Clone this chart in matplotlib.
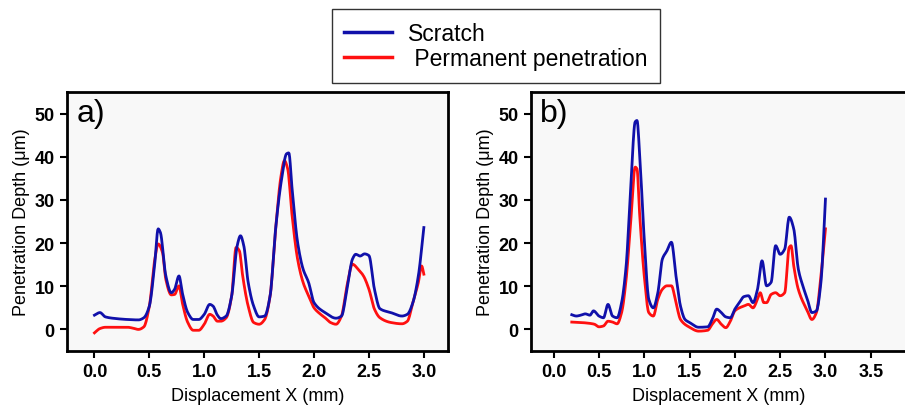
import matplotlib
matplotlib.use("Agg")
import matplotlib.pyplot as plt
import numpy as np

# ---------------- data ----------------
# Panel a
a_scratch_x = [0.0, 0.05, 0.1, 0.2, 0.3, 0.4, 0.45, 0.5, 0.55, 0.58, 0.6, 0.65, 0.7, 0.73, 0.77,
               0.8, 0.85, 0.9, 0.95, 1.0, 1.05, 1.08, 1.12, 1.15, 1.2, 1.25, 1.3, 1.33, 1.36,
               1.4, 1.45, 1.5, 1.55, 1.6, 1.65, 1.7, 1.75, 1.77, 1.8, 1.85, 1.9, 1.95, 2.0,
               2.1, 2.2, 2.25, 2.3, 2.35, 2.38, 2.42, 2.46, 2.5, 2.55, 2.6, 2.7, 2.8, 2.85, 2.9,
               2.95, 3.0]
a_scratch_y = [3.3, 3.9, 2.9, 2.5, 2.3, 2.2, 2.7, 5.4, 15.5, 23.3, 22.5, 12.4, 8.5, 9.3, 12.4,
               8.5, 3.9, 2.3, 2.3, 3.5, 5.8, 5.4, 3.3, 2.5, 3.1, 7.8, 19.4, 21.7, 19.4,
               10.9, 5.4, 2.9, 3.1, 7.8, 23.3, 34.1, 40.7, 40.9, 32.6, 20.2, 14.0, 10.9, 6.2,
               3.9, 2.6, 3.1, 9.3, 16.3, 17.4, 17.0, 17.5, 17.1, 9.3, 4.8, 3.9, 3.1, 3.5, 6.2,
               12.4, 23.6]
a_perm_x = [0.0, 0.05, 0.1, 0.2, 0.3, 0.35, 0.4, 0.45, 0.5, 0.55, 0.58, 0.62, 0.65, 0.7, 0.73,
            0.77, 0.8, 0.85, 0.9, 0.95, 1.0, 1.05, 1.08, 1.12, 1.15, 1.2, 1.25, 1.29, 1.32,
            1.35, 1.4, 1.45, 1.5, 1.55, 1.6, 1.65, 1.7, 1.73, 1.76, 1.8, 1.85, 1.9, 1.95,
            2.0, 2.05, 2.1, 2.15, 2.2, 2.25, 2.3, 2.35, 2.4, 2.45, 2.5, 2.55, 2.6, 2.7,
            2.8, 2.85, 2.9, 2.95, 2.98, 3.0]
a_perm_y = [-0.8, 0.2, 0.5, 0.5, 0.5, 0.3, 0.0, 0.6, 5.4, 16.3, 19.8, 17.8, 11.6, 8.0, 8.1,
            10.1, 6.2, 1.6, -0.2, -0.2, 1.2, 3.5, 3.1, 1.9, 1.9, 2.7, 7.8, 19.0, 18.2,
            12.4, 5.4, 1.6, 1.2, 2.3, 7.8, 23.3, 35.7, 39.1, 37.2, 26.4, 16.3, 10.9, 7.8,
            5.0, 3.7, 2.7, 1.6, 1.2, 3.1, 10.1, 15.1, 14.0, 12.4, 9.3, 4.7, 2.7, 1.6,
            1.3, 1.9, 6.2, 10.9, 14.7, 12.8]

# Panel b
b_scratch_x = [0.2, 0.25, 0.3, 0.35, 0.4, 0.44, 0.5, 0.55, 0.6, 0.65, 0.7, 0.75, 0.8, 0.85,
               0.9, 0.92, 0.95, 1.0, 1.05, 1.1, 1.15, 1.2, 1.25, 1.3, 1.35, 1.4, 1.45, 1.5,
               1.6, 1.7, 1.75, 1.8, 1.85, 1.9, 1.95, 2.0, 2.05, 2.1, 2.15, 2.2, 2.25, 2.3,
               2.35, 2.4, 2.45, 2.5, 2.55, 2.6, 2.65, 2.7, 2.75, 2.8, 2.85, 2.9, 2.95, 3.0]
b_scratch_y = [3.4, 3.1, 3.3, 3.6, 3.3, 4.3, 3.1, 2.7, 5.8, 3.1, 2.7, 6.2, 14.7, 32.6,
               48.1, 48.4, 40.3, 20.9, 7.0, 5.0, 8.5, 16.3, 18.2, 20.2, 12.4, 5.4, 2.3, 1.6,
               0.5, 0.6, 2.3, 4.7, 3.9, 2.9, 2.7, 4.7, 6.2, 7.6, 7.8, 6.2, 9.3, 15.9,
               10.1, 10.9, 19.4, 17.4, 18.6, 26.0, 23.3, 14.0, 10.1, 7.0, 3.9, 4.3, 10.9, 30.2]
b_perm_x = [0.2, 0.3, 0.4, 0.45, 0.5, 0.55, 0.6, 0.65, 0.7, 0.75, 0.8, 0.85, 0.9, 0.92,
            0.95, 1.0, 1.05, 1.1, 1.15, 1.2, 1.25, 1.3, 1.35, 1.4, 1.5, 1.6, 1.7, 1.75,
            1.8, 1.85, 1.9, 1.95, 2.0, 2.05, 2.1, 2.15, 2.2, 2.25, 2.28, 2.32, 2.35, 2.4,
            2.45, 2.5, 2.55, 2.6, 2.62, 2.65, 2.7, 2.8, 2.85, 2.9, 2.95, 3.0]
b_perm_y = [1.7, 1.6, 1.4, 1.2, 0.6, 0.8, 1.9, 1.7, 1.3, 3.9, 11.6, 24.8, 37.6, 37.2,
            26.4, 12.4, 3.9, 3.1, 7.0, 9.3, 10.1, 10.1, 6.2, 2.3, 0.5, -0.4, -0.2, 1.2,
            2.3, 1.2, 0.4, 1.9, 4.3, 5.0, 5.4, 5.8, 5.0, 7.0, 8.5, 6.2, 6.2, 8.1,
            8.5, 7.8, 8.5, 19.0, 19.4, 14.7, 9.3, 4.3, 2.3, 3.9, 12.4, 23.3]

a_xticks = [0.0, 0.5, 1.0, 1.5, 2.0, 2.5, 3.0]
b_xticks = [0.0, 0.5, 1.0, 1.5, 2.0, 2.5, 3.0, 3.5]
yticks = [0, 10, 20, 30, 40, 50]
labels = ["Scratch", " Permanent penetration"]
panel_tags = ["a)", "b)"]

# ---------------- style ----------------
plt.rcParams['font.family'] = ['Liberation Sans', 'DejaVu Sans']
BLUE = '#1010aa'
RED = '#ff1010'
BG = '#f8f8f8'

fig = plt.figure(figsize=(9.05, 4.10), dpi=100)

def smooth(x, y):
    x = np.asarray(x, float)
    y = np.asarray(y, float)
    # monotone cubic (PCHIP-like) interpolation for a smooth look
    xs = np.linspace(x[0], x[-1], 600)
    h = np.diff(x)
    d = np.diff(y) / h
    m = np.zeros_like(y)
    for i in range(1, len(y) - 1):
        if d[i - 1] * d[i] > 0:
            w1 = 2 * h[i] + h[i - 1]
            w2 = h[i] + 2 * h[i - 1]
            m[i] = (w1 + w2) / (w1 / d[i - 1] + w2 / d[i])
    m[0] = d[0]
    m[-1] = d[-1]
    idx = np.clip(np.searchsorted(x, xs) - 1, 0, len(x) - 2)
    t = (xs - x[idx]) / h[idx]
    h00 = 2 * t**3 - 3 * t**2 + 1
    h10 = t**3 - 2 * t**2 + t
    h01 = -2 * t**3 + 3 * t**2
    h11 = t**3 - t**2
    ys = h00 * y[idx] + h10 * h[idx] * m[idx] + h01 * y[idx + 1] + h11 * h[idx] * m[idx + 1]
    return xs, ys

def setup(ax, xticks, xlim, tag):
    ax.set_facecolor(BG)
    ax.set_xlim(*xlim)
    ax.set_ylim(-5, 55)
    ax.set_xticks(xticks)
    ax.set_xticklabels([f"{t:.1f}" for t in xticks], fontweight='bold', fontsize=13)
    ax.set_yticks(yticks)
    ax.set_yticklabels([str(t) for t in yticks], fontweight='bold', fontsize=13)
    ax.tick_params(direction='out', length=5, width=1.5, pad=4)
    for s in ax.spines.values():
        s.set_linewidth(2)
    ax.set_xlabel("Displacement X (mm)", fontsize=13, labelpad=5)
    ax.set_ylabel("Penetration Depth (\u03bcm)", fontsize=13, labelpad=3)
    ax.text(0.025, 0.975, tag, transform=ax.transAxes, fontsize=23, va='top', ha='left')

ax1 = fig.add_axes([67 / 905, 58 / 410, 381 / 905, 259 / 410])
ax2 = fig.add_axes([531 / 905, 58 / 410, 376 / 905, 259 / 410])

x, y = smooth(a_scratch_x, a_scratch_y)
l1, = ax1.plot(x, y, color=BLUE, lw=2, label=labels[0], zorder=3)
x, y = smooth(a_perm_x, a_perm_y)
l2, = ax1.plot(x, y, color=RED, lw=2, label=labels[1], zorder=2)
setup(ax1, a_xticks, (-0.25, 3.22), panel_tags[0])

x, y = smooth(b_scratch_x, b_scratch_y)
ax2.plot(x, y, color=BLUE, lw=2, zorder=3)
x, y = smooth(b_perm_x, b_perm_y)
ax2.plot(x, y, color=RED, lw=2, zorder=2)
setup(ax2, b_xticks, (-0.25, 3.9), panel_tags[1])

leg = fig.legend([l1, l2], labels, loc='center', bbox_to_anchor=(496 / 905, 1 - 47 / 410),
                 fontsize=16.5, frameon=True, fancybox=False, edgecolor='black',
                 handlelength=2.1, borderpad=0.55, labelspacing=0.12, handletextpad=0.7,
                 borderaxespad=0)
leg.get_frame().set_linewidth(1.0)
for line in leg.get_lines():
    line.set_linewidth(2.5)

fig.savefig("out.png", dpi=100, facecolor='white')
